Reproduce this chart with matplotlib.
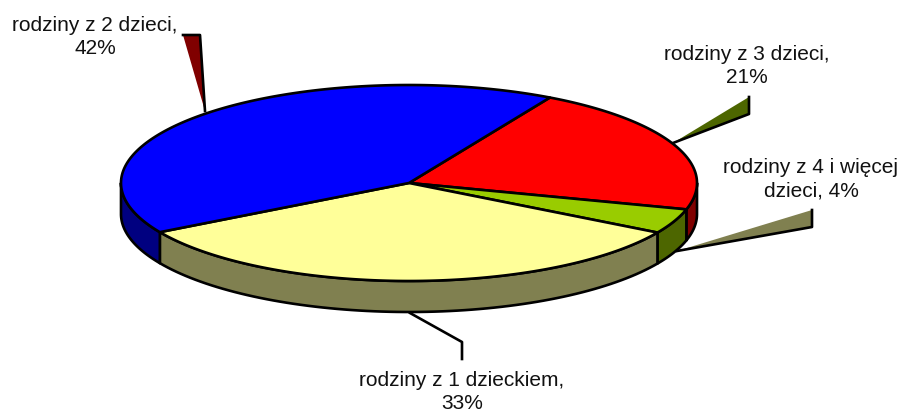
import numpy as np
import matplotlib
matplotlib.use("Agg")
import matplotlib.pyplot as plt
from matplotlib.patches import Polygon

plt.rcParams["font.family"] = ["Liberation Sans", "DejaVu Sans"]

# slices, clockwise from the blue/red edge
labels = ["rodziny z 3 dzieci,\n21%", "rodziny z 4 i więcej\ndzieci, 4%", "rodziny z 1 dzieckiem,\n33%", "rodziny z 2 dzieci,\n42%"]
shares = [21.2, 4.1, 33.2, 41.5]  # labels are rounded
top_colors = ["#ff0000", "#99cc00", "#ffff99", "#0000ff"]
side_colors = ["#800000", "#4d6600", "#808050", "#000080"]

cx, cy = 409, 183
rx, ry = 288, 98
depth = 31
start = 60.7
lw = 1.9


def ell(t, dy=0):
    t = np.radians(t)
    return np.column_stack([cx + rx * np.cos(t), cy - ry * np.sin(t) + dy])


fig = plt.figure(figsize=(9.03, 4.17), dpi=100)
ax = fig.add_axes([0, 0, 1, 1])
ax.set_xlim(0, 903)
ax.set_ylim(417, 0)
ax.axis("off")

# angles of each slice, t goes down (clockwise)
edges = start - np.cumsum([0] + shares) * 3.6

# side walls first, only the front half shows
for i in range(len(shares)):
    lo = max(edges[i + 1], -180)
    hi = min(edges[i], 0)
    if lo < hi:
        ts = np.linspace(hi, lo, 80)
        pts = np.vstack([ell(ts), ell(ts[::-1], depth)])
        ax.add_patch(Polygon(pts, closed=True, fc=side_colors[i], ec="black", lw=lw, joinstyle="round", zorder=2))

# tops
for i in range(len(shares)):
    ts = np.linspace(edges[i], edges[i + 1], 150)
    pts = np.vstack([[cx, cy], ell(ts)])
    ax.add_patch(Polygon(pts, closed=True, fc=top_colors[i], ec="black", lw=lw, joinstyle="round", zorder=3))

# leader lines, wedge shaped in the original
lead_2 = [(183, 35), (200, 35), (205, 111)]
lead_3 = [(673, 143), (749, 97), (749, 114)]
lead_4 = [(677, 251), (812, 210), (812, 227)]
lead_1 = [(410, 313), (462, 342), (462, 359)]

ax.add_patch(Polygon(lead_2, closed=True, fc="#800000", ec="none", zorder=1))
ax.plot(*zip(*lead_2), color="black", lw=lw, zorder=1)
ax.add_patch(Polygon(lead_3, closed=True, fc="#4d6600", ec="none", zorder=1))
ax.plot(*zip(lead_3[1], lead_3[2], lead_3[0]), color="black", lw=lw, zorder=1)
ax.add_patch(Polygon(lead_4, closed=True, fc="#808050", ec="none", zorder=1))
ax.plot(*zip(lead_4[1], lead_4[2], lead_4[0]), color="black", lw=lw, zorder=1)
ax.plot(*zip(*lead_1), color="black", lw=lw, zorder=1)

# labels
fs = 15
label_pos = [(747, 66), (811, 179), (462, 392), (95, 37)]
for (x, y), s in zip(label_pos, labels):
    ax.text(x, y, s, ha="center", va="center", fontsize=fs, linespacing=1.32, color="#111111", zorder=5)

fig.savefig("out.png", dpi=100)
